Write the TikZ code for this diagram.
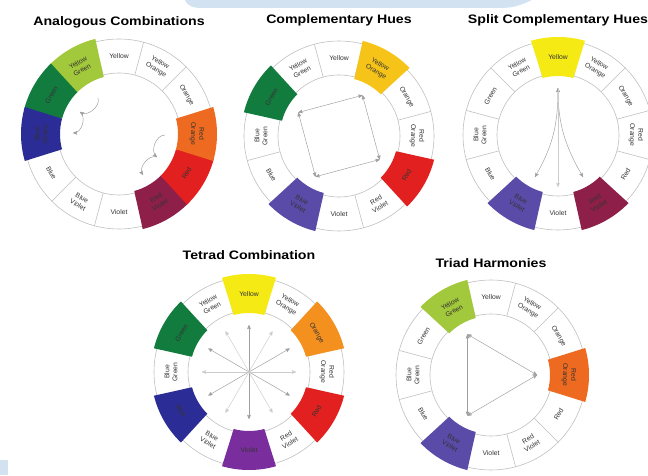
\documentclass[tikz,border=0pt]{standalone}
\usepackage{fontspec}
\setmainfont{Liberation Sans}
\newfontfamily\titlefont[FakeStretch=1.15]{Liberation Sans}
\usetikzlibrary{arrows,positioning}
\definecolor{bandblue}{HTML}{D2E2F0}
\definecolor{cyellow}{HTML}{F6EA14}
\definecolor{cyorange}{HTML}{F6C418}
\definecolor{corange}{HTML}{F3901E}
\definecolor{crorange}{HTML}{EE6A20}
\definecolor{cred}{HTML}{E2201F}
\definecolor{crviolet}{HTML}{8E1F48}
\definecolor{cviolet}{HTML}{7A2E9E}
\definecolor{cbviolet}{HTML}{5A4BA8}
\definecolor{cblue}{HTML}{2C2C96}
\definecolor{cgreen}{HTML}{127C3F}
\definecolor{cygreen}{HTML}{A2C83B}
\tikzset{
    %Define standard arrow tip
    >=stealth',
    ring/.style={
      draw=gray!50, line width=0.5pt},
    hue/.style={
      text=black!80,
      font=\fontsize{5.8}{6.9}\selectfont,
      align=center,
      inner sep=0pt},
    title/.style={
      font=\titlefont\fontsize{10.5}{12}\selectfont\bfseries,
      inner sep=0pt},
    link/.style={
      draw=gray!75, line width=0.4pt},
    faint/.style={
      draw=gray!40, line width=0.4pt},
}
% one wheel: #1 centre, #2 coloured segments (angle/colour)
\newcommand{\colorwheel}[2]{%
  \begin{scope}[shift={(#1)}]
    \filldraw[ring, fill=white] (0,0) circle[radius=95];
    \draw[ring] (0,0) circle[radius=61];
    \foreach \a in {15,45,...,345}
      \draw[ring] (\a:61) -- (\a:95);
    \foreach \a/\col in {#2}
      \fill[fill=\col] (\a-15:59) arc[start angle=\a-15, end angle=\a+15, radius=59]
        -- (\a+16:98) arc[start angle=\a+16, end angle=\a-16, radius=98] -- cycle;
    \foreach \a/\r/\lbl in {90/0/Yellow, 60/-30/{Yellow\\Orange}, 30/-60/Orange,
        0/-90/{Red\\Orange}, 330/60/Red, 300/30/{Red\\Violet}, 270/0/Violet,
        240/-30/{Blue\\Violet}, 210/-60/Blue, 180/90/{Blue\\Green},
        150/60/Green, 120/30/{Yellow\\Green}}
      \node (#1-\a) [hue, rotate=\r] at (\a:78) {\lbl};
  \end{scope}}

\begin{document}
\begin{tikzpicture}[x=0.03cm, y=0.03cm]
    \useasboundingbox (0,0) rectangle (648,475);
    % pale band at the top
    \fill[bandblue] (185,475) to[out=-70, in=180] (202,467) -- (500,467)
          to[out=0, in=-155] (532,475) -- cycle;
    \fill[bandblue] (0,0) rectangle (8,15);

    \coordinate (w1) at (119,341);
    \coordinate (w2) at (339,339);
    \coordinate (w3) at (558,340);
    \coordinate (w4) at (249,103);
    \coordinate (w5) at (491,100);

    \colorwheel{w1}{120/cygreen, 150/cgreen, 180/cblue, 300/crviolet, 330/cred, 0/crorange}
    \colorwheel{w2}{60/cyorange, 150/cgreen, 240/cbviolet, 330/cred}
    \colorwheel{w3}{90/cyellow, 240/cbviolet, 300/crviolet}
    \colorwheel{w4}{90/cyellow, 30/corange, 330/cred, 270/cviolet, 210/cblue, 150/cgreen}
    \colorwheel{w5}{120/cygreen, 0/crorange, 240/cbviolet}

    \node (t1) [title, above=3.18cm of w1] {Analogous Combinations};
    \node (t2) [title, above=3.3cm of w2] {Complementary Hues};
    \node (t3) [title, above=3.27cm of w3] {Split Complementary Hues};
    \node (t4) [title, above=3.36cm of w4] {Tetrad Combination};
    \node (t5) [title, above=3.21cm of w5] {Triad Harmonies};

    % analogous steps
    \begin{scope}[shift={(w1)}]
      \coordinate (a0) at (-21,36);
      \coordinate (a1) at (-39,22);
      \coordinate (a2) at (-46,1);
      \coordinate (b0) at (46,-1);
      \coordinate (b1) at (38,-23);
      \coordinate (b2) at (24,-41);
      \draw[link, ->] (a0) to[bend left=70] (a1);
      \draw[link, ->] (a1) to[bend left=70] (a2);
      \draw[link, ->] (b0) to[bend right=70] (b1);
      \draw[link, ->] (b1) to[bend right=70] (b2);
    \end{scope}

    % complementary square
    \begin{scope}[shift={(w2)}]
      \coordinate (q1) at (60:47);
      \coordinate (q2) at (150:47);
      \coordinate (q3) at (240:47);
      \coordinate (q4) at (330:47);
      \draw[link, <->] (q1) -- (q2);
      \draw[link, <->] (q2) -- (q3);
      \draw[link, <->] (q3) -- (q4);
      \draw[link, <->] (q4) -- (q1);
    \end{scope}

    % split complementary fan
    \begin{scope}[shift={(w3)}]
      \coordinate (s0) at (0,47);
      \coordinate (s1) at (-23,-42);
      \coordinate (s2) at (25,-42);
      \coordinate (s3) at (0,-52);
      \draw[link, <->] (s0) to[out=-90, in=60] (s1);
      \draw[link, <->] (s0) to[out=-90, in=120] (s2);
      \draw[faint, ->] (s0) -- (s3);
    \end{scope}

    % tetrad spokes
    \begin{scope}[shift={(w4)}]
      \foreach \a in {0,30,...,330}
        \coordinate (k\a) at (\a:47);
      \draw[link, <->] (k90) -- (k270);
      \draw[link, <->] (k30) -- (k210);
      \draw[link, <->] (k150) -- (k330);
      \draw[faint, <->] (k0) -- (k180);
      \draw[faint, <->] (k60) -- (k240);
      \draw[faint, <->] (k120) -- (k300);
    \end{scope}

    % triad triangle
    \begin{scope}[shift={(w5)}]
      \coordinate (v1) at (120:47);
      \coordinate (v2) at (0:46);
      \coordinate (v3) at (240:47);
      \draw[link, <->] (v1) -- (v2);
      \draw[link, <->] (v2) -- (v3);
      \draw[link, <->] (v3) -- (v1);
    \end{scope}
\end{tikzpicture}
\end{document}
